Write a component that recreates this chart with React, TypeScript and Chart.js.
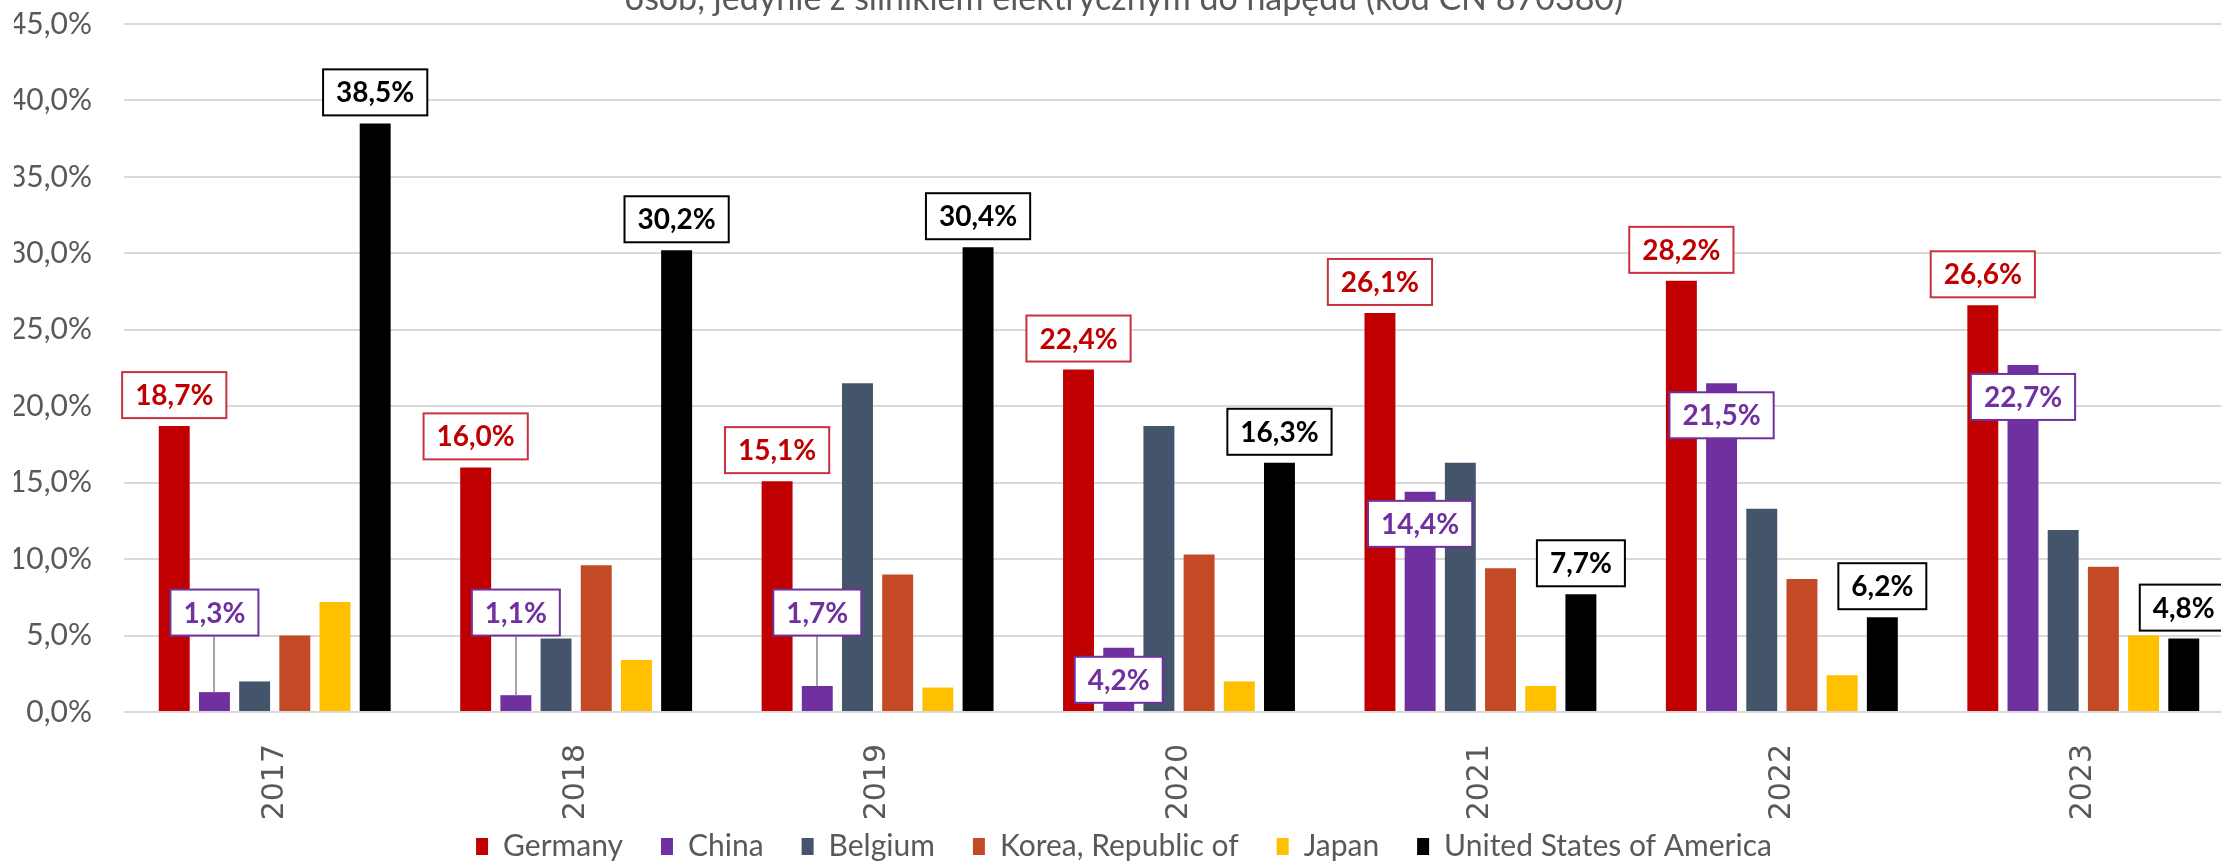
import React, { useEffect, useRef } from 'react';
import { Chart, registerables } from 'chart.js';

Chart.register(...registerables);

// ---- data ----
const years = ['2017', '2018', '2019', '2020', '2021', '2022', '2023'];
const seriesNames = ['Germany', 'China', 'Belgium', 'Korea, Republic of', 'Japan', 'United States of America'];
const germany = [18.7, 16.0, 15.1, 22.4, 26.1, 28.2, 26.6];
const china = [1.3, 1.1, 1.7, 4.2, 14.4, 21.5, 22.7];
const belgium = [2.0, 4.8, 21.5, 18.7, 16.3, 13.3, 11.9];
const korea = [5.0, 9.6, 9.0, 10.3, 9.4, 8.7, 9.5];
const japan = [7.2, 3.4, 1.6, 2.0, 1.7, 2.4, 5.0];
const usa = [38.5, 30.2, 30.4, 16.3, 7.7, 6.2, 4.8];
const seriesColors = ['#C00000', '#7030A0', '#44546A', '#C44A26', '#FFC000', '#000000'];
const yMin = 0;
const yMax = 45;
const yStep = 5;
const titleText = 'osób, jedynie z silnikiem elektrycznym do napędu (kod CN 870380)';
// China label placement: leader (box above, joined by a line) or inside the bar top
const chinaLabelPlacement = ['leader', 'leader', 'leader', 'inside', 'inside', 'inside', 'inside'];
const chinaLeaderBoxBottom = 5.0; // value level of the leader-label box bottom

const FONT = 'Lato, "Open Sans", sans-serif';
const fmtPct = (v: number) => v.toFixed(1).replace('.', ',') + '%';

const boxLabelPlugin = {
  id: 'boxLabels',
  afterDatasetsDraw(chart: any) {
    const ctx = chart.ctx;
    const yScale = chart.scales.y;
    chart.data.datasets.forEach((ds: any, di: number) => {
      const cfg = ds.boxLabel;
      if (!cfg) return;
      const meta = chart.getDatasetMeta(di);
      meta.data.forEach((bar: any, i: number) => {
        const text = fmtPct(ds.data[i]);
        ctx.save();
        ctx.font = `bold 28px ${FONT}`;
        const tw = ctx.measureText(text).width;
        const bw = tw + 26;
        const bh = 46;
        const mode = cfg.placement ? cfg.placement[i] : 'above';
        let top: number;
        if (mode === 'inside') {
          top = bar.y + 9;
        } else if (mode === 'leader') {
          const bottom = yScale.getPixelForValue(cfg.leaderBottom);
          top = bottom - bh;
          ctx.strokeStyle = '#A6A6A6';
          ctx.lineWidth = 2;
          ctx.beginPath();
          ctx.moveTo(Math.round(bar.x), bottom);
          ctx.lineTo(Math.round(bar.x), bar.y);
          ctx.stroke();
        } else {
          top = bar.y - 8 - bh;
        }
        const left = bar.x - bw / 2;
        ctx.fillStyle = '#FFFFFF';
        ctx.fillRect(left, top, bw, bh);
        ctx.strokeStyle = cfg.border;
        ctx.lineWidth = 2;
        ctx.strokeRect(left, top, bw, bh);
        ctx.fillStyle = cfg.color;
        ctx.textAlign = 'center';
        ctx.textBaseline = 'middle';
        ctx.fillText(text, bar.x, top + bh / 2 + 1);
        ctx.restore();
      });
    });
  },
};

export default function App() {
  const canvasRef = useRef<HTMLCanvasElement | null>(null);

  useEffect(() => {
    document.body.style.margin = '0';
    document.documentElement.style.overflow = 'hidden';
    const canvas = canvasRef.current;
    if (!canvas) return;
    const values = [germany, china, belgium, korea, japan, usa];
    const datasets: any[] = seriesNames.map((name, k) => ({
      label: name,
      data: values[k],
      backgroundColor: seriesColors[k],
      borderWidth: 0,
      categoryPercentage: 0.8,
      barPercentage: 0.77,
    }));
    datasets[0].boxLabel = { color: '#C00000', border: '#C8323F' };
    datasets[1].boxLabel = { color: '#7030A0', border: '#7030A0', placement: chinaLabelPlacement, leaderBottom: chinaLeaderBoxBottom };
    datasets[5].boxLabel = { color: '#000000', border: '#000000' };

    const chart = new Chart(canvas, {
      type: 'bar',
      data: { labels: years, datasets },
      plugins: [boxLabelPlugin],
      options: {
        responsive: false,
        animation: false,
        devicePixelRatio: 1,
        layout: { padding: { left: 14, right: 11, top: 0, bottom: 18.5 } },
        plugins: {
          title: {
            display: true,
            text: titleText,
            color: '#595959',
            font: { family: FONT, size: 34, weight: 'normal' },
            padding: { top: 8.6, bottom: 4.6 },
          },
          legend: {
            display: true,
            position: 'bottom',
            labels: {
              color: '#595959',
              font: { family: FONT, size: 30 },
              boxWidth: 12,
              boxHeight: 17,
              padding: 38,
            },
          },
          tooltip: { enabled: false },
        },
        scales: {
          x: {
            grid: { display: false, drawTicks: false },
            border: { display: false },
            ticks: {
              color: '#595959',
              font: { family: '"DejaVu Sans", sans-serif', size: 30 },
              minRotation: 90,
              maxRotation: 90,
              padding: 32,
            },
            afterFit: (s: any) => {
              s.height = 81.5;
              // let the rotated year labels run past the axis box instead of being clipped
              s._computeLabelArea = () => undefined;
            },
          },
          y: {
            min: yMin,
            max: yMax,
            grid: { color: '#D9D9D9', lineWidth: 2, drawTicks: false },
            border: { display: false },
            ticks: {
              stepSize: yStep,
              color: '#595959',
              font: { family: FONT, size: 30 },
              padding: 32,
              callback: (v: any) => fmtPct(Number(v)),
            },
            afterFit: (s: any) => { s.width = 110; },
          },
        },
      },
    });
    return () => chart.destroy();
  }, []);

  return (
    <div style={{ position: 'relative', width: 2221, height: 861, overflow: 'hidden', background: '#fff' }}>
      <div style={{ position: 'absolute', left: 0, top: -30, width: 2245, height: 920 }}>
        <canvas ref={canvasRef} width={2245} height={920} style={{ width: 2245, height: 920, display: 'block' }} />
      </div>
    </div>
  );
}
